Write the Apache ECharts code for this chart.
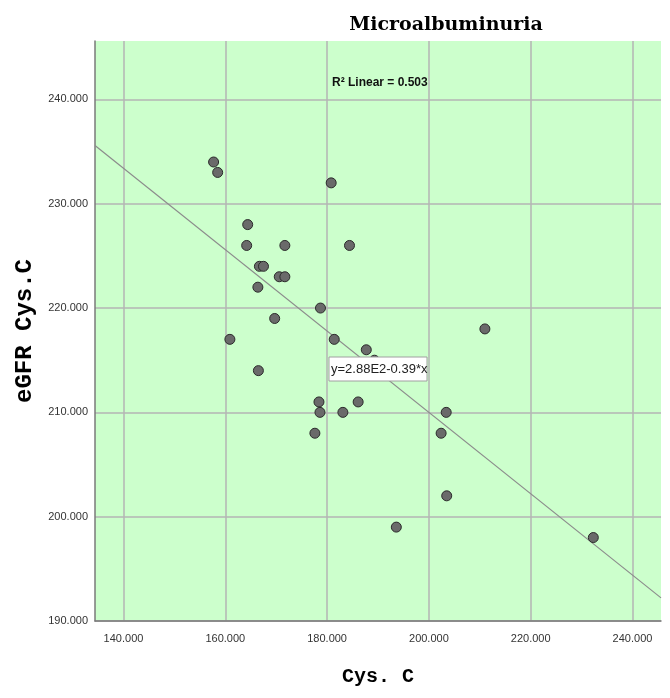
<!DOCTYPE html>
<html>
<head>
<meta charset="utf-8">
<script src="https://cdn.jsdelivr.net/npm/echarts@6/dist/echarts.min.js"></script>
<style>html,body{margin:0;padding:0;background:#fff;}#chart{width:670px;height:698px;}</style>
</head>
<body>
<div id="chart"></div>
<script>
// Data
var cysC = [157.7,158.5,180.8,164.4,164.2,171.7,184.4,166.7,167.5,170.6,171.7,166.4,178.7,169.7,160.9,181.4,187.7,189.3,166.5,186.1,178.4,178.6,183.1,177.6,211.0,203.4,202.4,203.5,193.6,232.3];
var egfrCysC = [234,233,232,228,226,226,226,224,224,223,223,222,220,219,217,217,216,215,214,211,211,210,210,208,218,210,208,202,199,198];
var xTicks = [140,160,180,200,220,240];
var yTicks = [190,200,210,220,230,240];
var fitIntercept = 288;
var fitSlope = -0.39;
var xMin = 134.4, xMax = 245.6, yMin = 190, yMax = 245.6;
var titleText = 'Microalbuminuria';
var r2Text = 'R\u00B2 Linear = 0.503';
var eqText = 'y=2.88E2-0.39*x';

var points = cysC.map(function(v,i){return [v, egfrCysC[i]];});
var fitLine = [[xMin, fitIntercept + fitSlope*xMin],[xMax, fitIntercept + fitSlope*xMax]];

var chart = echarts.init(document.getElementById('chart'));
var narrow = '"Liberation Sans Narrow", "Arial Narrow", "Liberation Sans", Arial, sans-serif';
chart.setOption({
  animation: false,
  backgroundColor: '#ffffff',
  title: {
    text: titleText, left: 441, top: 11, textAlign: 'center',
    textStyle: {fontFamily: '"DejaVu Serif", serif', fontWeight: 900, fontSize: 19, color: '#000'}
  },
  grid: {left: 95, right: 9, top: 41, bottom: 77, show: true, backgroundColor: '#ccffcc', borderWidth: 0},
  xAxis: {
    type: 'value', min: xMin, max: xMax,
    name: 'Cys. C', nameLocation: 'middle', nameGap: 46,
    nameTextStyle: {fontFamily: '"Liberation Mono", "Courier New", monospace', fontWeight: 'bold', fontSize: 20, color: '#000'},
    axisLine: {show: true, lineStyle: {color: '#7a7a7a', width: 1.5}},
    axisTick: {show: false, customValues: xTicks},
    axisLabel: {customValues: xTicks, margin: 12, fontFamily: narrow, fontSize: 11, color: '#333',
      formatter: function(v){return v.toFixed(3);}},
    splitLine: {show: true, lineStyle: {color: '#b5b5b5', width: 1.5}}
  },
  yAxis: {
    type: 'value', min: yMin, max: yMax,
    name: 'eGFR Cys.C', nameLocation: 'middle', nameGap: 52,
    nameTextStyle: {fontFamily: '"Liberation Mono", "Courier New", monospace', fontWeight: 'bold', fontSize: 24, color: '#000'},
    axisLine: {show: true, lineStyle: {color: '#7a7a7a', width: 1.5}},
    axisTick: {show: false, customValues: yTicks},
    axisLabel: {customValues: yTicks, margin: 7, fontFamily: narrow, fontSize: 11, color: '#333',
      formatter: function(v){return v.toFixed(3);}},
    splitLine: {show: true, lineStyle: {color: '#b5b5b5', width: 1.5}}
  },
  series: [
    {type: 'line', data: fitLine, symbol: 'none', silent: true, z: 2,
     lineStyle: {color: '#8c8c8c', width: 1.2}},
    {type: 'scatter', data: points, symbol: 'circle', symbolSize: 10, z: 3,
     itemStyle: {color: '#6a6a6a', borderColor: '#2b2b2b', borderWidth: 1, opacity: 1}}
  ],
  graphic: [
    {type: 'text', left: 332, top: 77, z: 10,
     style: {text: r2Text, font: 'bold 12px ' + narrow, fill: '#111'}},
    {type: 'rect', shape: {x: 329, y: 357, width: 98, height: 24}, z: 10,
     style: {fill: '#ffffff', stroke: '#a0a0a0', lineWidth: 1}},
    {type: 'text', x: 331, y: 369, z: 11,
     style: {text: eqText, font: '13px ' + narrow, fill: '#222', verticalAlign: 'middle'}}
  ]
});
</script>
</body>
</html>
